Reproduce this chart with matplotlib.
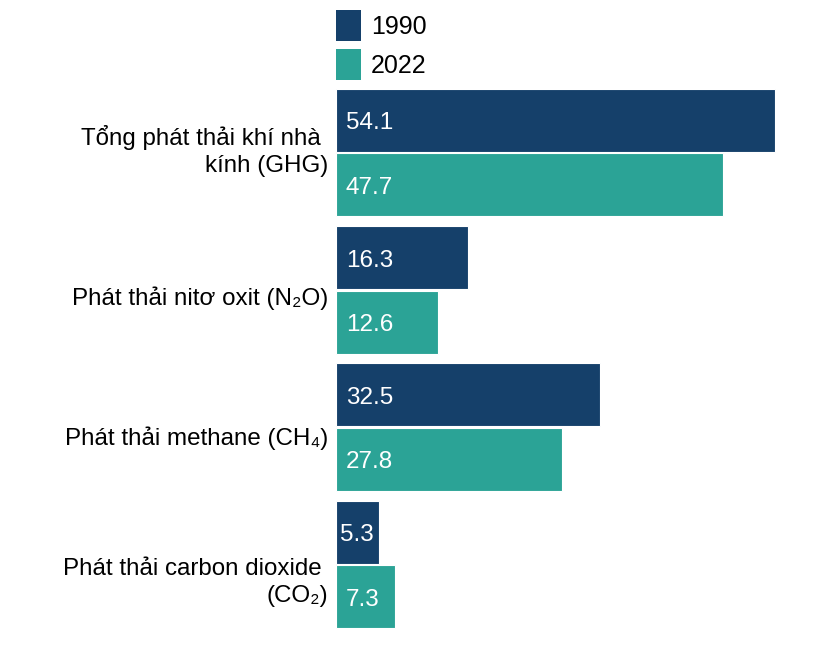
import matplotlib
matplotlib.use('Agg')
import matplotlib.pyplot as plt
import matplotlib.transforms as mtransforms
from matplotlib.patches import Patch
import numpy as np

plt.rcParams['font.family'] = ['Liberation Sans', 'DejaVu Sans']

# Data
categories = ['Tổng phát thải khí nhà \nkính (GHG)', 'Phát thải nitơ oxit (N₂O)',
              'Phát thải methane (CH₄)', 'Phát thải carbon dioxide \n(CO₂)']
years = ['1990', '2022']
values_1990 = [54.1, 16.3, 32.5, 5.3]
values_2022 = [47.7, 12.6, 27.8, 7.3]

# Style
col_1990 = '#15406a'
col_2022 = '#2ba396'
bar_h = 0.46
offset = 0.235
label_shift_px = [-2, 8, 11, 18]  # small vertical nudge of category labels

fig = plt.figure(figsize=(8.2, 6.63), dpi=100, facecolor='white')
ax = fig.add_axes([336 / 820, 30 / 663, 464 / 820, 549 / 663])

y = np.arange(len(categories))
bars1 = ax.barh(y - offset, values_1990, height=bar_h, color=col_1990, edgecolor='white', linewidth=0.8)
bars2 = ax.barh(y + offset, values_2022, height=bar_h, color=col_2022, edgecolor='white', linewidth=0.8)

ax.set_xlim(0, 57.2)
ax.set_ylim(3.5, -0.5)
ax.axis('off')

# value labels inside bars
for bars, vals in [(bars1, values_1990), (bars2, values_2022)]:
    for b, v in zip(bars, vals):
        pad = 4 if v < 6 else 10
        tr = ax.transData + mtransforms.ScaledTranslation(pad / 100, -3 / 100, fig.dpi_scale_trans)
        ax.text(0, b.get_y() + b.get_height() / 2, f'{v:.1f}', transform=tr,
                color='white', fontsize=17.5, va='center', ha='left')

# category labels
for i, cat in enumerate(categories):
    tr = ax.transData + mtransforms.ScaledTranslation(-8 / 100, -label_shift_px[i] / 100, fig.dpi_scale_trans)
    ax.text(0, i, cat, transform=tr, ha='right', va='center', fontsize=17.4,
            color='black', linespacing=1.3, multialignment='right')

handles = [Patch(facecolor=col_1990), Patch(facecolor=col_2022)]
leg = fig.legend(handles, years, loc='upper left', bbox_to_anchor=(336 / 820, 1 - 10 / 663),
                 frameon=False, fontsize=18, handlelength=1.0, handleheight=1.53,
                 handletextpad=0.4, labelspacing=0.32, borderpad=0, borderaxespad=0)

fig.savefig('out.png', dpi=100, facecolor='white')
